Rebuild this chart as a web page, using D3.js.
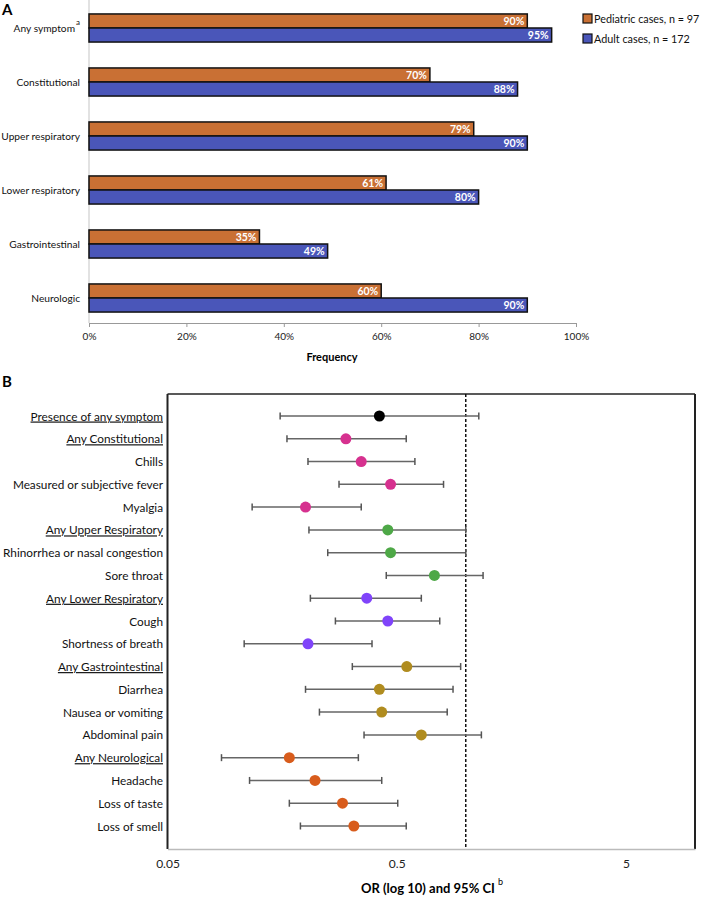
<!DOCTYPE html>
<html>
<head>
<meta charset="utf-8">
<script src="https://cdn.jsdelivr.net/npm/d3@7"></script>
<style>
  body { margin: 0; background: white; }
  text { font-family: Lato, "Open Sans", sans-serif; }
</style>
</head>
<body>
<div id="chart"></div>
<script>
// Panel A data
var categories = ["Any symptom", "Constitutional", "Upper respiratory", "Lower respiratory", "Gastrointestinal", "Neurologic"];
var pediatric = [90, 70, 79, 61, 35, 60];
var adult = [95, 88, 90, 80, 49, 90];
var seriesNames = ["Pediatric cases, n = 97", "Adult cases, n = 172"];
var freqTicks = [0, 20, 40, 60, 80, 100];

// Panel B data
var symptoms = ["Presence of any symptom", "Any Constitutional", "Chills", "Measured or subjective fever", "Myalgia",
  "Any Upper Respiratory", "Rhinorrhea or nasal congestion", "Sore throat", "Any Lower Respiratory", "Cough",
  "Shortness of breath", "Any Gastrointestinal", "Diarrhea", "Nausea or vomiting", "Abdominal pain",
  "Any Neurological", "Headache", "Loss of taste", "Loss of smell"];
var orValues = [0.42, 0.30, 0.35, 0.47, 0.20, 0.457, 0.47, 0.73, 0.37, 0.457, 0.205, 0.553, 0.42, 0.43, 0.64, 0.17, 0.22, 0.29, 0.325];
var ciLow = [0.155, 0.166, 0.205, 0.28, 0.117, 0.207, 0.25, 0.45, 0.21, 0.27, 0.108, 0.32, 0.20, 0.23, 0.36, 0.086, 0.114, 0.17, 0.19];
var ciHigh = [1.14, 0.55, 0.60, 0.80, 0.35, 1.0, 1.0, 1.19, 0.64, 0.77, 0.39, 0.95, 0.88, 0.83, 1.17, 0.34, 0.43, 0.505, 0.55];
var groups = ["any", "con", "con", "con", "con", "up", "up", "up", "low", "low", "low", "gi", "gi", "gi", "gi", "neu", "neu", "neu", "neu"];
var underlined = ["Presence of any symptom", "Any Constitutional", "Any Upper Respiratory", "Any Lower Respiratory", "Any Gastrointestinal", "Any Neurological"];
var orTicks = [0.05, 0.5, 5];

var groupColor = {any: "#000000", con: "#d6318f", up: "#4ea847", low: "#8044fa", gi: "#b08c1f", neu: "#d85c1c"};
var barColors = ["#c97034", "#4a56b9"];

var width = 705, height = 899;
var svg = d3.select("#chart").append("svg")
    .attr("width", width)
    .attr("height", height);

// ---------------- Panel A ----------------
svg.append("text").text("A")
    .attr("x", 2).attr("y", 15)
    .attr("font-size", 15).attr("font-weight", "bold");

var xA = d3.scaleLinear().domain([0, 100]).range([89, 576]);
var yA = d3.scaleBand().domain(categories).range([1, 325]).paddingInner(0.48).paddingOuter(0.24);

// light vertical category axis
svg.append("line")
    .attr("x1", xA(0)).attr("x2", xA(0))
    .attr("y1", 0).attr("y2", 323)
    .attr("stroke", "#d9d9d9").attr("stroke-width", 1.5);

var barH = yA.bandwidth() / 2;
var rows = svg.append("g").selectAll("g")
    .data(categories)
    .enter().append("g")
    .attr("transform", d => `translate(0,${yA(d)})`);

[pediatric, adult].forEach(function(vals, s) {
  rows.append("rect")
      .attr("x", xA(0))
      .attr("y", s * barH)
      .attr("width", (d, i) => xA(vals[i]) - xA(0))
      .attr("height", barH)
      .attr("fill", barColors[s])
      .attr("stroke", "#111")
      .attr("stroke-width", 1.5);
  rows.append("text")
      .text((d, i) => vals[i] + "%")
      .attr("x", (d, i) => xA(vals[i]) - 3)
      .attr("y", s * barH + barH / 2 + 4)
      .attr("text-anchor", "end")
      .attr("font-size", 10.5)
      .attr("font-weight", "bold")
      .attr("fill", "white");
});

// category labels
var catLab = rows.append("text")
    .attr("x", 80)
    .attr("y", barH + 4)
    .attr("text-anchor", "end")
    .attr("font-size", 10.2)
    .attr("fill", "#111")
    .text(d => d);
catLab.filter(d => d === "Any symptom")
    .append("tspan").text("a")
    .attr("font-size", 8).attr("dy", -7).attr("dx", 1);

// x axis
var axA = svg.append("g")
    .attr("transform", "translate(0,323)")
    .call(d3.axisBottom(xA).tickValues(freqTicks).tickFormat(d => d + "%").tickSize(4).tickSizeOuter(0));
axA.select(".domain").attr("stroke", "#999");
axA.selectAll(".tick line").attr("stroke", "#999");
axA.selectAll(".tick text").attr("font-size", 10).attr("fill", "#222").attr("dy", "0.95em")
    .attr("font-family", "Lato, sans-serif");

svg.append("text").text("Frequency")
    .attr("x", 332).attr("y", 361)
    .attr("text-anchor", "middle")
    .attr("font-size", 11).attr("font-weight", "bold");

// legend
var legend = svg.append("g").selectAll("g")
    .data(seriesNames)
    .enter().append("g")
    .attr("transform", (d, i) => `translate(583,${14 + i * 20})`);
legend.append("rect")
    .attr("width", 9).attr("height", 9)
    .attr("fill", (d, i) => barColors[i])
    .attr("stroke", "#111").attr("stroke-width", 1.2);
legend.append("text")
    .text(d => d)
    .attr("x", 11).attr("y", 9)
    .attr("font-size", 10.8).attr("fill", "#111");

// ---------------- Panel B ----------------
svg.append("text").text("B")
    .attr("x", 2).attr("y", 387)
    .attr("font-size", 15).attr("font-weight", "bold");

var xB = d3.scaleLog().domain([0.05, 10]).range([167.5, 695]);
var yB = d3.scalePoint().domain(symptoms).range([416, 826]);
var boxTop = 394, boxBottom = 849;

// box frame
svg.append("line").attr("x1", xB(0.05)).attr("x2", xB(10)).attr("y1", boxTop).attr("y2", boxTop)
    .attr("stroke", "#222").attr("stroke-width", 1.5);
svg.append("line").attr("x1", xB(0.05)).attr("x2", xB(0.05)).attr("y1", boxTop).attr("y2", boxBottom)
    .attr("stroke", "#222").attr("stroke-width", 2);
svg.append("line").attr("x1", xB(10)).attr("x2", xB(10)).attr("y1", boxTop).attr("y2", boxBottom)
    .attr("stroke", "#222").attr("stroke-width", 2);

// x axis (log)
var axB = svg.append("g")
    .attr("transform", `translate(0,${boxBottom})`)
    .call(d3.axisBottom(xB).tickValues(orTicks).tickFormat(d3.format("")).tickSize(0).tickSizeOuter(0));
axB.select(".domain").attr("stroke", "#bbb").attr("stroke-width", 1.5);
axB.selectAll(".tick text").attr("font-size", 12).attr("fill", "#222").attr("dy", "1.35em")
    .attr("font-family", "Lato, sans-serif");

// reference line at OR = 1
svg.append("line")
    .attr("x1", xB(1)).attr("x2", xB(1))
    .attr("y1", boxTop).attr("y2", boxBottom)
    .attr("stroke", "#111").attr("stroke-width", 1.5)
    .attr("stroke-dasharray", "3,2");

var axTitle = svg.append("text")
    .attr("x", 432).attr("y", 893)
    .attr("text-anchor", "middle")
    .attr("font-size", 13).attr("font-weight", "bold")
    .text("OR (log 10) and 95% CI");
axTitle.append("tspan").text("b")
    .attr("font-size", 9).attr("font-weight", "normal").attr("dy", -8).attr("dx", 3);

// forest rows
var fr = svg.append("g").selectAll("g")
    .data(symptoms)
    .enter().append("g")
    .attr("transform", d => `translate(0,${yB(d)})`);

fr.append("line")
    .attr("x1", (d, i) => xB(ciLow[i]))
    .attr("x2", (d, i) => xB(ciHigh[i]))
    .attr("stroke", "#666").attr("stroke-width", 1.5);
fr.append("line")
    .attr("x1", (d, i) => xB(ciLow[i])).attr("x2", (d, i) => xB(ciLow[i]))
    .attr("y1", -3.5).attr("y2", 3.5)
    .attr("stroke", "#555").attr("stroke-width", 1.5);
fr.append("line")
    .attr("x1", (d, i) => xB(ciHigh[i])).attr("x2", (d, i) => xB(ciHigh[i]))
    .attr("y1", -3.5).attr("y2", 3.5)
    .attr("stroke", "#555").attr("stroke-width", 1.5);
fr.append("circle")
    .attr("cx", (d, i) => xB(orValues[i]))
    .attr("r", 5.5)
    .attr("fill", (d, i) => groupColor[groups[i]]);

fr.append("text")
    .text(d => d)
    .attr("x", 163)
    .attr("y", 4.5)
    .attr("text-anchor", "end")
    .attr("font-size", 11.8)
    .attr("fill", "#111")
    .attr("text-decoration", d => underlined.includes(d) ? "underline" : null);
</script>
</body>
</html>
